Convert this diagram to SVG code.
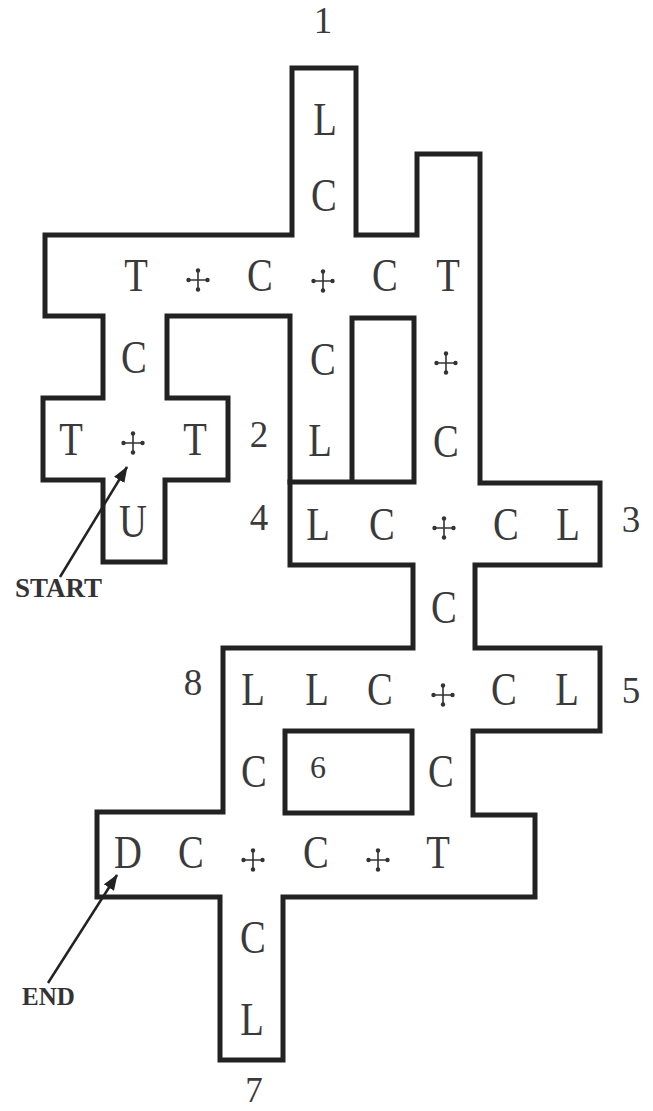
<svg xmlns="http://www.w3.org/2000/svg" width="653" height="1111" viewBox="0 0 653 1111">
<style>
.wall{fill:none;stroke:#222;stroke-width:5;stroke-linejoin:miter;stroke-linecap:square}
.let{font-family:"Liberation Serif",serif;font-size:46px;fill:#3a3a3a;text-anchor:middle;transform-box:fill-box;transform-origin:center;transform:scaleX(0.84)}
.num{font-family:"Liberation Serif",serif;font-size:37px;fill:#3a3a3a;text-anchor:middle}
.lab{font-family:"Liberation Serif",serif;font-weight:bold;fill:#333}
.arr{stroke:#222;stroke-width:2.5;fill:none}
</style>
<defs>
<g id="cross">
<path d="M-9.5 0H9.5M0 -9.5V9.5" stroke="#333" stroke-width="1.6"/>
<circle cx="-9.5" cy="0" r="2.2" fill="#333"/>
<circle cx="9.5" cy="0" r="2.2" fill="#333"/>
<circle cx="0" cy="-9.5" r="2.2" fill="#333"/>
<circle cx="0" cy="9.5" r="2.2" fill="#333"/>
</g>
<marker id="ah" markerWidth="16" markerHeight="12" refX="15" refY="6" orient="auto" markerUnits="userSpaceOnUse">
<path d="M0 0L16 6L0 12z" fill="#222"/>
</marker>
</defs>
<g id="maze">
<path class="wall" d="M292 68H356V235H417V154H480V483H600V565H475V648H600V731H473V815H535V897H283V1060H220V897H97V812H223V648H413V565H290V316H167V398H228V480H165V562H103V480H43V398H103V316H45V235H292Z"/>
<path class="wall" d="M290 482H414V318H352V482"/>
<rect class="wall" x="285" y="731" width="127" height="82"/>
</g>
<g id="letters">
<text class="let" x="325" y="135">L</text>
<text class="let" x="324" y="211">C</text>
<text class="let" x="136" y="291">T</text>
<text class="let" x="260" y="291">C</text>
<text class="let" x="385" y="291">C</text>
<text class="let" x="448" y="291">T</text>
<text class="let" x="134" y="373">C</text>
<text class="let" x="71" y="455">T</text>
<text class="let" x="195" y="455">T</text>
<text class="let" x="133" y="537">U</text>
<text class="let" x="323" y="375">C</text>
<text class="let" x="320" y="456">L</text>
<text class="let" x="446" y="457">C</text>
<text class="let" x="318" y="540">L</text>
<text class="let" x="382" y="540">C</text>
<text class="let" x="506" y="540">C</text>
<text class="let" x="568" y="540">L</text>
<text class="let" x="444" y="623">C</text>
<text class="let" x="253" y="705">L</text>
<text class="let" x="317" y="705">L</text>
<text class="let" x="380" y="705">C</text>
<text class="let" x="504" y="705">C</text>
<text class="let" x="567" y="705">L</text>
<text class="let" x="254" y="787">C</text>
<text class="let" x="441" y="787">C</text>
<text class="let" x="128" y="868">D</text>
<text class="let" x="191" y="868">C</text>
<text class="let" x="316" y="868">C</text>
<text class="let" x="438" y="868">T</text>
<text class="let" x="253" y="953">C</text>
<text class="let" x="252" y="1035">L</text>
</g>
<g id="crosses">
<use href="#cross" x="198" y="280"/>
<use href="#cross" x="323" y="281"/>
<use href="#cross" x="133" y="443"/>
<use href="#cross" x="446" y="363"/>
<use href="#cross" x="444" y="528"/>
<use href="#cross" x="443" y="695"/>
<use href="#cross" x="253" y="860"/>
<use href="#cross" x="378" y="860"/>
</g>
<g id="numbers">
<text class="num" x="323" y="33">1</text>
<text class="num" x="259" y="447">2</text>
<text class="num" x="259" y="530">4</text>
<text class="num" x="631" y="532">3</text>
<text class="num" x="193" y="695">8</text>
<text class="num" x="631" y="703">5</text>
<text class="num" x="318" y="778" style="font-size:32px">6</text>
<text class="num" x="254" y="1102" style="font-size:35px">7</text>
</g>
<g id="connectors">
<line class="arr" x1="60" y1="577" x2="127" y2="467" marker-end="url(#ah)"/>
<line class="arr" x1="48" y1="983" x2="117" y2="875" marker-end="url(#ah)"/>
</g>
<g id="start"><text class="lab" x="15" y="597" style="font-size:27px">START</text></g>
<g id="end"><text class="lab" x="22" y="1005" style="font-size:25px">END</text></g>
</svg>
